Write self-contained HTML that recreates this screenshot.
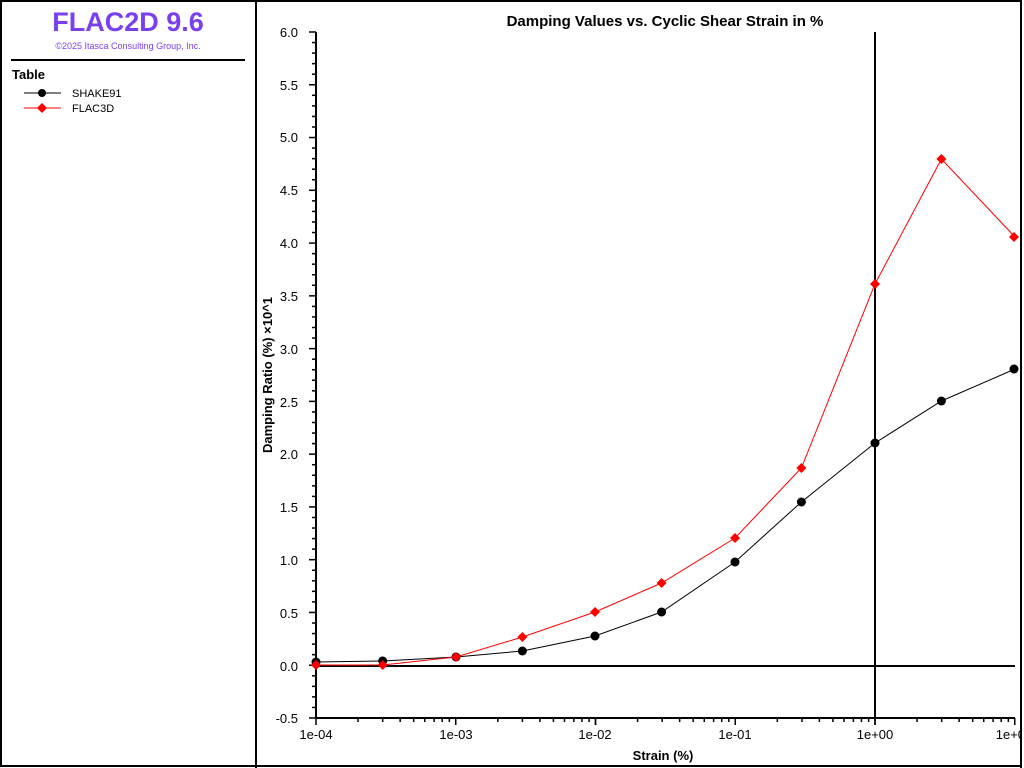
<!DOCTYPE html>
<html><head><meta charset="utf-8"><style>
html,body{margin:0;padding:0;background:#fff;width:1024px;height:768px;overflow:hidden}
svg{display:block;font-family:"Liberation Sans",sans-serif}
</style></head><body>
<svg width="1024" height="768" xmlns="http://www.w3.org/2000/svg">
<rect x="1" y="1" width="1020" height="765" fill="#fff" stroke="#000" stroke-width="2"/>
<line x1="256" y1="0" x2="256" y2="768" stroke="#000" stroke-width="2"/>
<text x="128" y="31" text-anchor="middle" font-size="27" font-weight="bold" fill="#7b3ff2">FLAC2D 9.6</text>
<text x="128" y="49" text-anchor="middle" font-size="9" fill="#7b3ff2">©2025 Itasca Consulting Group, Inc.</text>
<line x1="11" y1="60" x2="245" y2="60" stroke="#000" stroke-width="2"/>
<text x="12" y="79" font-size="13" font-weight="bold">Table</text>
<line x1="24" y1="93" x2="61" y2="93" stroke="#000"/><circle cx="42" cy="93" r="4" fill="#000"/>
<text x="72" y="97" font-size="11">SHAKE91</text>
<line x1="24" y1="108" x2="61" y2="108" stroke="#f00"/><path d="M42 103L47 108L42 113L37 108Z" fill="#f00"/>
<text x="72" y="112" font-size="11">FLAC3D</text>

<text x="665" y="26" text-anchor="middle" font-size="15" font-weight="bold">Damping Values vs. Cyclic Shear Strain in %</text>
<text x="663" y="760" text-anchor="middle" font-size="13" font-weight="bold">Strain (%)</text>
<text transform="translate(272,375) rotate(-90)" text-anchor="middle" font-size="13" font-weight="bold">Damping Ratio (%) ×10^1</text>

<g stroke="#000" stroke-width="2">
<line x1="316" y1="32" x2="316" y2="719"/>
<line x1="315" y1="718" x2="1015" y2="718"/>
<line x1="316" y1="666" x2="1015" y2="666"/>
<line x1="875" y1="32" x2="875" y2="718"/>
</g>
<g stroke="#000" stroke-width="1.5" id="yt"></g>
<g font-size="13" text-anchor="end">
<text x="298" y="37">6.0</text><text x="298" y="90">5.5</text><text x="298" y="142">5.0</text><text x="298" y="195">4.5</text><text x="298" y="248">4.0</text><text x="298" y="301">3.5</text><text x="298" y="354">3.0</text><text x="298" y="407">2.5</text><text x="298" y="459">2.0</text><text x="298" y="512">1.5</text><text x="298" y="565">1.0</text><text x="298" y="618">0.5</text><text x="298" y="671">0.0</text><text x="298" y="723">-0.5</text>
</g>
<g font-size="13" text-anchor="middle">
<text x="316" y="739">1e-04</text><text x="456" y="739">1e-03</text><text x="595" y="739">1e-02</text><text x="735" y="739">1e-01</text><text x="875" y="739">1e+00</text><text x="1014" y="739">1e+01</text>
</g>
<rect x="1022" y="0" width="2" height="768" fill="#fff"/>
<line x1="1021" y1="0" x2="1021" y2="768" stroke="#000" stroke-width="2"/>

<polyline fill="none" stroke="#000" stroke-width="1" points="316,662 382.7,661 456,657 522.4,651 595,636 661.6,612 735,562 801.4,502 875,443 941.4,401 1015,369"/>
<polyline fill="none" stroke="#f00" stroke-width="1" points="316,665 382.7,665 456,657 522.4,637 595,612 661.6,583 735,538 801.4,468 875,284 941.4,159 1015,237"/>
<g fill="#000">
<circle cx="316" cy="662" r="4.5"/><circle cx="382.7" cy="661" r="4.5"/><circle cx="456" cy="657" r="4.5"/><circle cx="522.4" cy="651" r="4.5"/><circle cx="595" cy="636" r="4.5"/><circle cx="661.6" cy="612" r="4.5"/><circle cx="735" cy="562" r="4.5"/><circle cx="801.4" cy="502" r="4.5"/><circle cx="875" cy="443" r="4.5"/><circle cx="941.4" cy="401" r="4.5"/><circle cx="1014" cy="369" r="4.5"/>
</g>
<g fill="#f00" id="fd"></g>
<g stroke="#000" stroke-width="1.5" id="xt"></g>
</svg>
<script>
var ns="http://www.w3.org/2000/svg";
var yt=document.getElementById("yt");
for(var i=0;i<=65;i++){var y=32+i*686/65;var L=(i%5==0)?7:4;var l=document.createElementNS(ns,"line");l.setAttribute("x1",316-L);l.setAttribute("x2",316);l.setAttribute("y1",y);l.setAttribute("y2",y);yt.appendChild(l);}
var xt=document.getElementById("xt");
for(var d=0;d<5;d++){for(var k=1;k<=10;k++){var x=316+(d+Math.log10(k))*139.75;var L=(k==1||k==10)?7:4;var l=document.createElementNS(ns,"line");l.setAttribute("x1",x);l.setAttribute("x2",x);l.setAttribute("y1",718);l.setAttribute("y2",718+L);xt.appendChild(l);}}
var fd=document.getElementById("fd");
var pts=[[316,665],[382.7,665],[456,657],[522.4,637],[595,612],[661.6,583],[735,538],[801.4,468],[875,284],[941.4,159],[1014,237]];
pts.forEach(function(p){var q=document.createElementNS(ns,"path");q.setAttribute("d","M"+p[0]+" "+(p[1]-5)+"L"+(p[0]+5)+" "+p[1]+"L"+p[0]+" "+(p[1]+5)+"L"+(p[0]-5)+" "+p[1]+"Z");fd.appendChild(q);});
</script>
</body></html>
